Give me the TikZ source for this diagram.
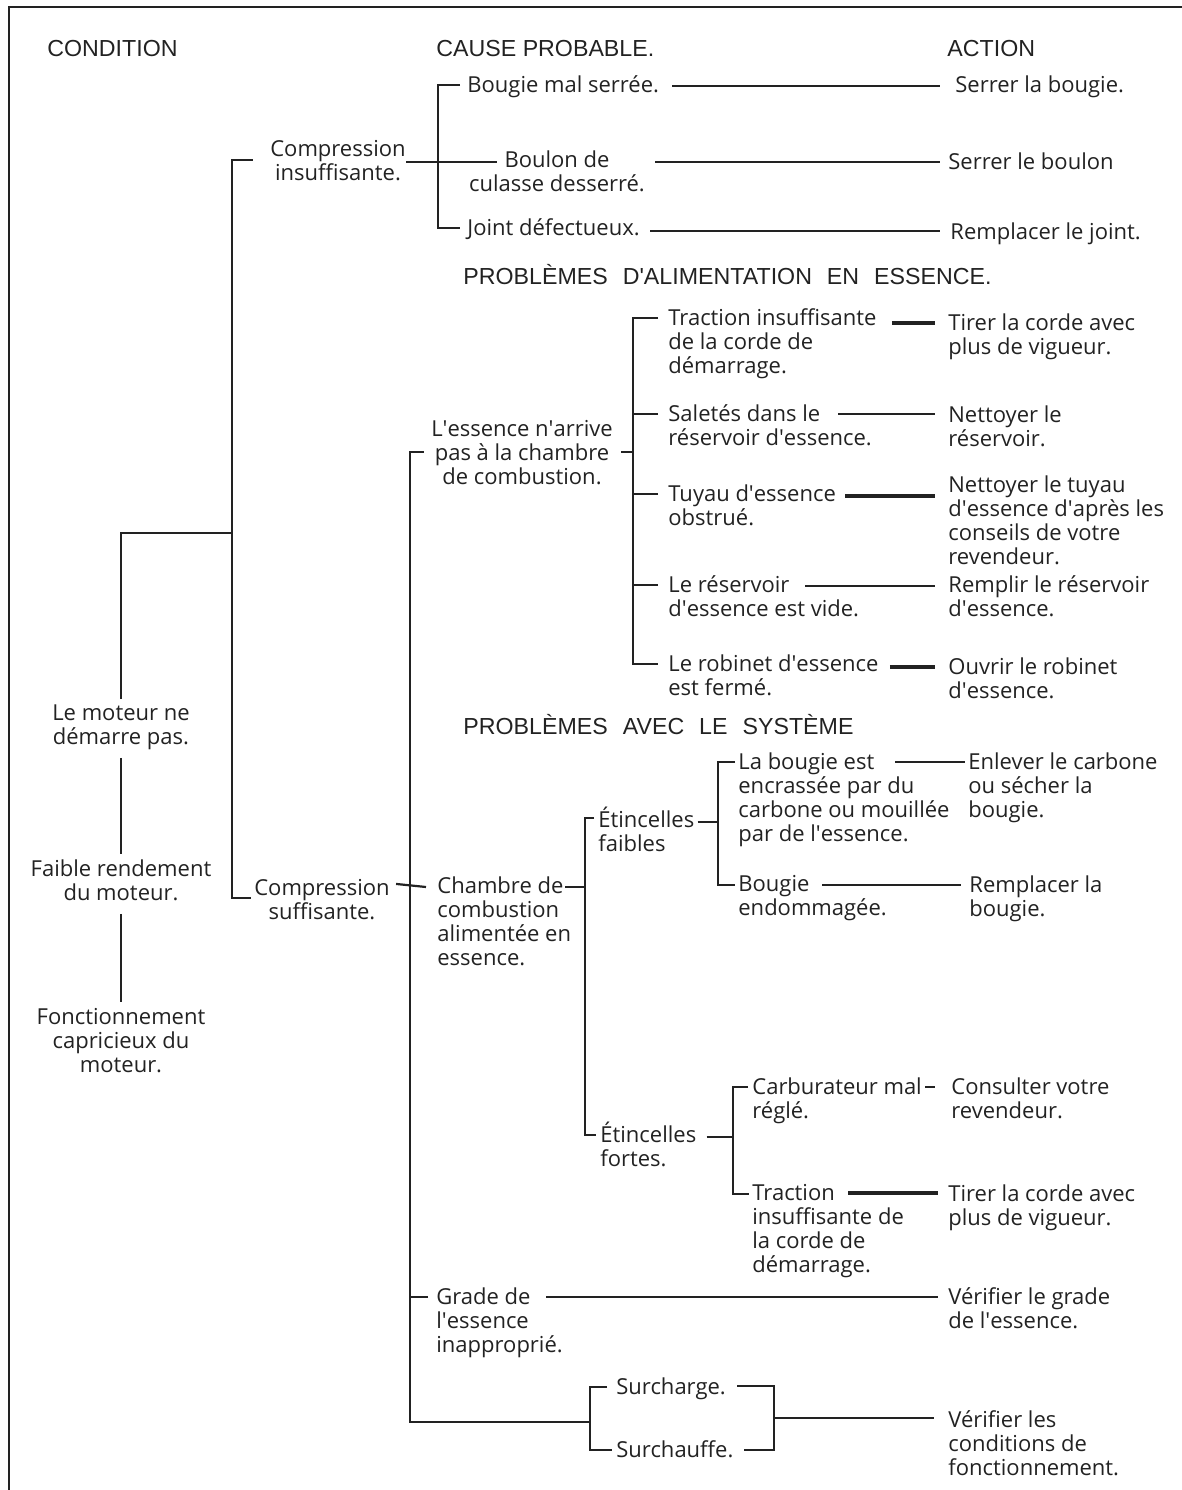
\documentclass[tikz,border=0pt]{standalone}
\usepackage{fontspec}
\setmainfont{Open Sans}
\newfontfamily\headfont{Liberation Sans}
\usepackage{tikz}
\usetikzlibrary{calc}
\definecolor{ink}{HTML}{222222}
\newcommand\widespace{\spaceskip=7.5pt\relax}
\newcommand\apos{\textquotesingle}

\begin{document}
\begin{tikzpicture}[x=0.5pt,y=-0.5pt,
  txt/.style={font=\fontsize{11}{12}\selectfont,text=ink,align=left,anchor=north west,inner sep=0pt,execute at begin node=\strut},
  ctxt/.style={txt,align=center,anchor=north},
  mid/.style={txt,align=center,anchor=center},
  cond/.style={ctxt,outer sep=3pt},
  head/.style={font=\headfont\fontsize{11.6}{13}\selectfont,text=ink,anchor=base west,inner sep=0pt},
  wide/.style={head,font=\headfont\fontsize{11.6}{13}\selectfont\widespace},
  link/.style={draw=ink,line width=1.1pt},
  heavy/.style={draw=ink,line width=2.3pt}]
  \useasboundingbox (0,0) rectangle (1182,1490);
  \draw[ink,line width=1.3pt] (1182,7) -- (9,7) -- (9,1490);

  % headings
  \node[head] (hcond) at (47,56) {CONDITION};
  \node[head] (hcause) at (436,56) {CAUSE PROBABLE.};
  \node[head] (hact) at (947,56) {ACTION};
  \node[wide] (hfuel) at (463,284) {PROBLÈMES D\apos ALIMENTATION EN ESSENCE.};
  \node[wide] (hsys) at (463,734) {PROBLÈMES AVEC LE SYSTÈME};

  % conditions
  \node[cond] (moteur) at (121,699) {Le moteur ne\\démarre pas.};
  \node[cond] (faible) at (121,854) {Faible rendement\\du moteur.};
  \node[cond] (fonct) at (121,1002) {Fonctionnement\\capricieux du\\moteur.};
  \node[mid] (cins) at (338,164) {Compression\\insuffisante.};
  \node[mid] (csuf) at (322,903) {Compression\\suffisante.};

  \coordinate (tA) at (232,533);
  \draw[link] ($(cins.west)+(-17,-4)$) -| (tA) |- ($(csuf.west)+(-3,-5)$);
  \draw[link] (moteur.north) |- (tA);
  \draw[link] (moteur) -- (faible);
  \draw[link] (faible) -- (fonct);

  % compression insuffisante
  \node[txt] (bougie) at (467,75) {Bougie mal serrée.};
  \node[ctxt] (boulon) at (557,150) {Boulon de\\culasse desserré.};
  \node[txt] (joint) at (467,218) {Joint défectueux.};
  \node[txt] (serbou) at (955,75) {Serrer la bougie.};
  \node[txt] (serboul) at (948,152) {Serrer le boulon};
  \node[txt] (remjoint) at (950,222) {Remplacer le joint.};

  \coordinate (sB) at (438,160);
  \draw[link] ($(bougie.north west)+(-7,10)$) -| (sB) |- ($(joint.north west)+(-7,10)$);
  \draw[link] ($(cins.east)+(0,-2)$) -- ($(boulon.north west)+(28,12)$);
  \draw[link] ($(bougie.north east)+(13,11)$) -- ($(serbou.north west)+(-15,11)$);
  \draw[link] ($(boulon.north east)+(10,12)$) -- ($(serboul.north west)+(-8,10)$);
  \draw[link] ($(joint.north east)+(10,13)$) -- ($(remjoint.north west)+(-10,9)$);

  % alimentation en essence
  \node[mid] (ess) at (522,456) {L\apos essence n\apos arrive\\pas à la chambre\\de combustion.};
  \node[txt] (trac) at (668,308) {Traction insuffisante\\de la corde de\\démarrage.};
  \node[txt] (sal) at (668,404) {Saletés dans le\\réservoir d\apos essence.};
  \node[txt] (tuy) at (668,484) {Tuyau d\apos essence\\obstrué.};
  \node[txt] (resv) at (668,575) {Le réservoir\\d\apos essence est vide.};
  \node[txt] (rob) at (668,654) {Le robinet d\apos essence\\est fermé.};
  \node[txt] (tirer1) at (948,313) {Tirer la corde avec\\plus de vigueur.};
  \node[txt] (nettres) at (948,405) {Nettoyer le\\réservoir.};
  \node[txt] (netttuy) at (948,475) {Nettoyer le tuyau\\d\apos essence d\apos après les\\conseils de votre\\revendeur.};
  \node[txt] (rempl) at (948,575) {Remplir le réservoir\\d\apos essence.};
  \node[txt] (ouvrir) at (948,657) {Ouvrir le robinet\\d\apos essence.};

  \coordinate (sC) at (410,1000);
  \coordinate (sD) at (590,1422);
  \coordinate (sE) at (633,452);
  \draw[link] ($(ess.west)+(-7,-4)$) -| (sC) |- (sD);
  \draw[link] ($(ess.east)+(8,-4)$) -- (sE);
  \draw[link] ($(trac.north west)+(-10,10)$) -| (sE) |- ($(rob.north west)+(-10,10)$);
  \draw[link] ($(sal.north west)+(-10,10)$) -- +(-25,0);
  \draw[link] ($(tuy.north west)+(-10,10)$) -- +(-25,0);
  \draw[link] ($(resv.north west)+(-10,10)$) -- +(-25,0);
  \draw[heavy] ($(trac.north east)+(15,15)$) -- ($(tirer1.north west)+(-13,10)$);
  \draw[link] ($(sal.north west)+(170,10)$) -- ($(nettres.north west)+(-13,9)$);
  \draw[heavy] ($(tuy.north east)+(9,12)$) -- ($(netttuy.north west)+(-13,21)$);
  \draw[link] ($(resv.north west)+(137,11)$) -- ($(rempl.north west)+(-13,11)$);
  \draw[heavy] ($(rob.north east)+(11,13)$) -- ($(ouvrir.north west)+(-13,10)$);

  % systeme
  \node[txt] (chamb) at (437,876) {Chambre de\\combustion\\alimentée en\\essence.};
  \node[txt] (etf) at (598,807) {Étincelles\\faibles};
  \node[txt] (etfo) at (600,1122) {Étincelles\\fortes.};
  \node[txt] (bencr) at (738,752) {La bougie est\\encrassée par du\\carbone ou mouillée\\par de l\apos essence.};
  \node[txt] (bendo) at (738,875) {Bougie\\endommagée.};
  \node[txt] (enlev) at (968,752) {Enlever le carbone\\ou sécher la\\bougie.};
  \node[txt] (rempbou) at (969,875) {Remplacer la\\bougie.};
  \node[txt] (carbu) at (752,1077) {Carburateur mal\\réglé.};
  \node[txt] (trac2) at (752,1184) {Traction\\insuffisante de\\la corde de\\démarrage.};
  \node[txt] (consul) at (951,1077) {Consulter votre\\revendeur.};
  \node[txt] (tirer2) at (948,1184) {Tirer la corde avec\\plus de vigueur.};

  \coordinate (sF) at (585,887);
  \coordinate (sG) at (718,822);
  \coordinate (sH) at (733,1137);
  \draw[link] ($(csuf.north east)+(6,5)$) -- ($(chamb.north west)+(-11,11)$);
  \draw[link] ($(chamb.north west)+(128,11)$) -- (sF);
  \draw[link] ($(etf.north west)+(-4,11)$) -| (sF) |- ($(etfo.north west)+(-4,13)$);
  \draw[link] ($(etf.north east)+(3,15)$) -- (sG);
  \draw[link] ($(bencr.north west)+(-3,10)$) -| (sG) |- ($(bendo.north west)+(-3,10)$);
  \draw[link] ($(bencr.north west)+(157,10)$) -- ($(enlev.north west)+(-3,10)$);
  \draw[link] ($(bendo.north west)+(84,10)$) -- ($(rempbou.north west)+(-8,10)$);
  \draw[link] ($(etfo.north east)+(10,15)$) -- (sH);
  \draw[link] ($(carbu.north west)+(-4,10)$) -| (sH) |- ($(trac2.north west)+(-3,10)$);
  \draw[link] ($(carbu.north east)+(3,10)$) -- ($(consul.north west)+(-16,10)$);
  \draw[heavy] ($(trac2.north west)+(96,9)$) -- ($(tirer2.north west)+(-10,9)$);

  % grade et surcharge
  \node[txt] (grade) at (436,1287) {Grade de\\l\apos essence\\inapproprié.};
  \node[txt] (verigr) at (948,1287) {Vérifier le grade\\de l\apos essence.};
  \node[txt] (surcha) at (616,1377) {Surcharge.};
  \node[txt] (surcau) at (616,1440) {Surchauffe.};
  \node[txt] (vericond) at (948,1410) {Vérifier les\\conditions de\\fonctionnement.};

  \draw[link] ($(grade.north west)+(-8,10)$) -- +(-18,0);
  \draw[link] ($(grade.north west)+(110,10)$) -- ($(verigr.north west)+(-10,10)$);
  \draw[link] ($(surcha.north west)+(-9,10)$) -| (sD) |- ($(surcau.north west)+(-4,10)$);
  \coordinate (sI) at (774,1418);
  \draw[link] ($(surcha.north east)+(11,9)$) -| (sI) |- ($(surcau.north east)+(10,10)$);
  \draw[link] (sI) -- ($(vericond.north west)+(-14,8)$);
\end{tikzpicture}
\end{document}
